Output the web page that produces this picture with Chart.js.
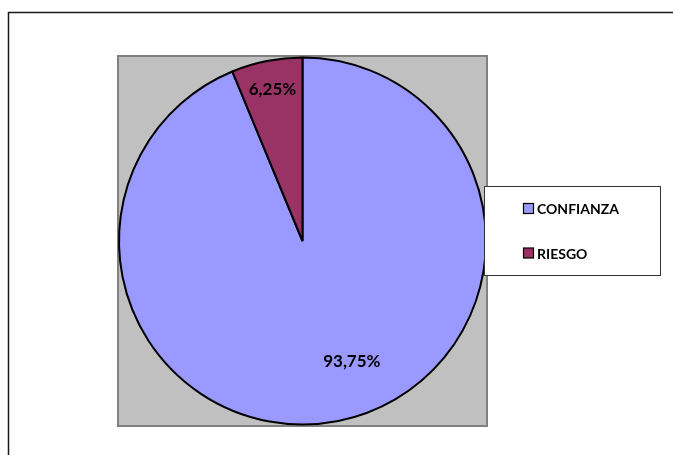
<!DOCTYPE html>
<html>
<head>
<meta charset="utf-8">
<script src="https://cdn.jsdelivr.net/npm/chart.js@4/dist/chart.umd.min.js"></script>
<style>
html,body{margin:0;padding:0;background:#fff;}
#wrap{width:673px;height:455px;position:relative;}
</style>
</head>
<body>
<div id="wrap"><canvas id="c" width="673" height="455"></canvas></div>
<script>
const categories = ['CONFIANZA', 'RIESGO'];
const values = [93.75, 6.25];
const valueLabels = ['93,75%', '6,25%'];
const sliceColors = ['#9999FF', '#993366'];

// label placement style: angle offset (deg) from slice middle, radius fraction
const labelStyle = [{dAngle: -11, r: 0.71}, {dAngle: 0, r: 0.84}];

const decor = {
  id: 'decor',
  beforeDraw(chart) {
    const ctx = chart.ctx;
    const a = chart.chartArea;
    ctx.save();
    ctx.fillStyle = '#fff';
    ctx.fillRect(0, 0, chart.width, chart.height);
    // outer frame
    ctx.strokeStyle = '#1a1a1a';
    ctx.lineWidth = 1.5;
    ctx.strokeRect(8.5, 12.5, chart.width + 20, chart.height + 20);
    // plot area
    ctx.fillStyle = '#C0C0C0';
    ctx.fillRect(a.left, a.top, a.right - a.left, a.bottom - a.top);
    ctx.strokeStyle = '#808080';
    ctx.lineWidth = 2;
    ctx.strokeRect(a.left, a.top, a.right - a.left, a.bottom - a.top);
    ctx.restore();
  },
  afterDatasetsDraw(chart) {
    const ctx = chart.ctx;
    const meta = chart.getDatasetMeta(0);
    ctx.save();
    ctx.font = 'bold 17px Lato, "Liberation Sans", sans-serif';
    ctx.fillStyle = '#000';
    ctx.textAlign = 'center';
    ctx.textBaseline = 'middle';
    meta.data.forEach((arc, i) => {
      const p = arc.getProps(['x', 'y', 'startAngle', 'endAngle', 'outerRadius'], true);
      const mid = (p.startAngle + p.endAngle) / 2 + labelStyle[i].dAngle * Math.PI / 180;
      const r = p.outerRadius * labelStyle[i].r;
      ctx.fillText(valueLabels[i], p.x + Math.cos(mid) * r, p.y + Math.sin(mid) * r);
    });
    // legend
    const lx = 484.5, ly = 186.5, lw = 176, lh = 89;
    ctx.fillStyle = '#fff';
    ctx.fillRect(lx, ly, lw, lh);
    ctx.strokeStyle = '#333';
    ctx.lineWidth = 1;
    ctx.strokeRect(lx, ly, lw, lh);
    ctx.font = 'bold 14px Lato, "Liberation Sans", sans-serif';
    ctx.textAlign = 'left';
    const rows = [208.5, 253];
    categories.forEach((c, i) => {
      const y = rows[i];
      ctx.fillStyle = sliceColors[i];
      ctx.fillRect(523.5, y - 5, 10, 10);
      ctx.strokeStyle = '#000';
      ctx.lineWidth = 1.2;
      ctx.strokeRect(523.5, y - 5, 10, 10);
      ctx.fillStyle = '#000';
      ctx.fillText(c, 537, y + 1);
    });
    ctx.restore();
  }
};

new Chart(document.getElementById('c'), {
  type: 'pie',
  data: {
    labels: categories,
    datasets: [{
      data: values,
      backgroundColor: sliceColors,
      borderColor: '#000',
      borderWidth: 2,
      borderAlign: 'center'
    }]
  },
  options: {
    responsive: false,
    animation: false,
    rotation: 0,
    layout: { padding: { left: 118, top: 56, right: 186, bottom: 29 } },
    plugins: {
      legend: { display: false },
      tooltip: { enabled: false }
    }
  },
  plugins: [decor]
});
</script>
</body>
</html>
